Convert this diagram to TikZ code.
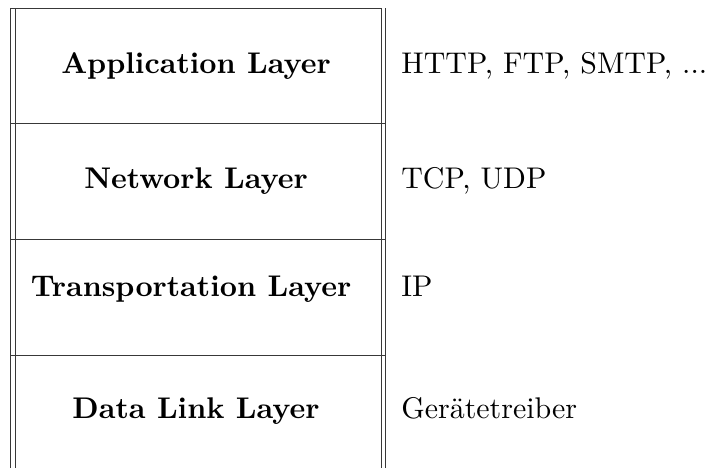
\documentclass[tikz,border=0pt]{standalone}
\usepackage{fontspec}
\setmainfont{lmroman10}[Extension=.otf, UprightFont=*-regular, BoldFont=*-bold]
\begin{document}
\begin{tikzpicture}[x=0.5pt,y=-0.5pt,
  rule/.style={line width=0.5pt,draw=black!78},
  layer/.style={anchor=base,inner sep=0pt,font=\fontsize{14.95}{17}\selectfont\bfseries},
  proto/.style={anchor=base west,inner sep=0pt,font=\fontsize{14.95}{17}\selectfont}]
\useasboundingbox (0,0) rectangle (722,468);
% double vertical rules
\draw[rule] (10,8) -- (10,468);
\draw[rule] (15,8) -- (15,468);
\draw[rule] (381,8) -- (381,468);
\draw[rule] (385.5,8) -- (385.5,468);
% horizontal rules
\draw[rule] (10,8) -- (381,8);
\foreach \y in {123,239.5,355} \draw[rule] (10,\y) -- (385.5,\y);
% layer names
\node[layer] (app) at (196,73) {Application Layer};
\node[layer] (net) at (196,188) {Network Layer};
\node[layer] (trn) at (191,296) {Transportation Layer};
\node[layer] (dll) at (196,418) {Data Link Layer};
% protocols
\node[proto] (papp) at (401,73) {HTTP, FTP, SMTP, ...};
\node[proto] (pnet) at (401,188) {TCP, UDP};
\node[proto] (ptrn) at (401,296) {IP};
\node[proto] (pdll) at (401,418) {Gerätetreiber};
\end{tikzpicture}
\end{document}
